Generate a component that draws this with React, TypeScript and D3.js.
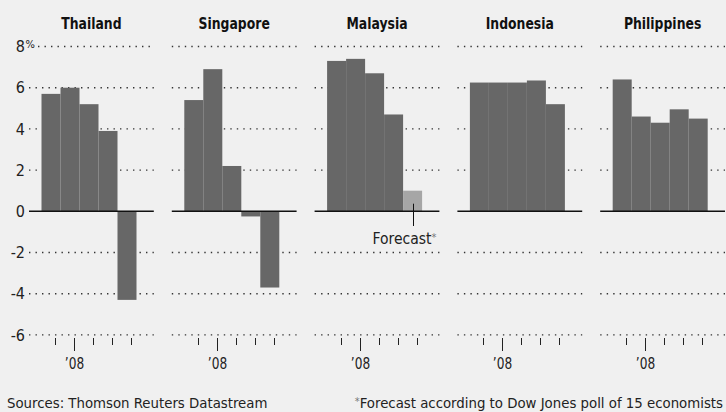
import * as d3 from 'd3';
import { useEffect, useRef } from "react";

// quarterly GDP growth, % change from a year earlier
const countries = ["Thailand", "Singapore", "Malaysia", "Indonesia", "Philippines"];
const thailand = [5.7, 6.0, 5.2, 3.9, -4.3];
const singapore = [5.4, 6.9, 2.2, -0.25, -3.7];
const malaysia = [7.3, 7.4, 6.7, 4.7, 1.0];
const indonesia = [6.25, 6.25, 6.25, 6.35, 5.2];
const philippines = [6.4, 4.6, 4.3, 4.95, 4.5];
const quarters = ["Q4 '07", "Q1 '08", "Q2 '08", "Q3 '08", "Q4 '08"];
const forecastFlags = [
    [false, false, false, false, false],
    [false, false, false, false, false],
    [false, false, false, false, true],
    [false, false, false, false, false],
    [false, false, false, false, false],
];
const yTicks = [-6, -4, -2, 0, 2, 4, 6, 8];
const yearLabel = "\u201908";
const yearTickIndex = 1;
const sourceText = "Sources: Thomson Reuters Datastream";
const noteText = "Forecast according to Dow Jones poll of 15 economists";

const W = 726, H = 412;
const FONT = "'DejaVu Sans Condensed', 'Roboto', sans-serif";

// squeeze text horizontally, the original uses a narrow face
const squeeze = (sel, k) => {
    const n = sel.node();
    const len = n.getComputedTextLength();
    sel.attr('textLength', len * k).attr('lengthAdjust', 'spacingAndGlyphs');
};

const App = () => {
    const svgRef = useRef(null);

    useEffect(() => {
        document.body.style.margin = '0';
        const svg = d3.select(svgRef.current)
            .attr('width', W)
            .attr('height', H)
            .style('display', 'block')
            .style('background', '#f0f0f0');
        svg.selectAll('*').remove();

        const series = [thailand, singapore, malaysia, indonesia, philippines];

        const y = d3.scaleLinear().domain([0, 8]).range([211.3, 46.5]);
        const panel = d3.scaleBand().domain(countries).range([29, 725]).paddingInner(0.126).paddingOuter(0);
        const pw = panel.bandwidth();

        // y labels
        yTicks.forEach(t => {
            svg.append('text')
                .attr('x', 25)
                .attr('y', y(t))
                .attr('dy', '0.36em')
                .attr('text-anchor', 'end')
                .attr('font-family', FONT)
                .attr('font-size', 16)
                .attr('fill', '#222')
                .text(t);
        });
        svg.append('text')
            .attr('x', 25.5)
            .attr('y', y(8) - 2)
            .attr('dy', '0.35em')
            .attr('font-family', FONT)
            .attr('font-size', 11)
            .attr('fill', '#222')
            .text('%');

        countries.forEach((c, i) => {
            const x0 = panel(c);
            const g = svg.append('g');
            const data = series[i];

            const title = g.append('text')
                .attr('x', x0 + pw / 2)
                .attr('y', 28.5)
                .attr('text-anchor', 'middle')
                .attr('font-family', FONT)
                .attr('font-weight', 'bold')
                .attr('font-size', 15)
                .attr('fill', '#111')
                .text(c);
            squeeze(title, 0.92);

            // dotted grid
            yTicks.filter(t => t !== 0).forEach(t => {
                g.append('line')
                    .attr('x1', (i === 0 && t === 8) ? x0 + 9 : x0)
                    .attr('x2', x0 + pw)
                    .attr('y1', y(t))
                    .attr('y2', y(t))
                    .attr('stroke', '#333')
                    .attr('stroke-width', 1.4)
                    .attr('stroke-dasharray', '1.4,5.1');
            });

            const xq = d3.scaleBand().domain(quarters).range([x0 + 12.5, x0 + 12.5 + 19 * 5]).padding(0);

            for (let k = 0; k < data.length; k++) {
                const v = data[k];
                g.append('rect')
                    .attr('x', xq(quarters[k]))
                    .attr('y', y(Math.max(0, v)))
                    .attr('width', xq.bandwidth())
                    .attr('height', Math.abs(y(v) - y(0)))
                    .attr('fill', forecastFlags[i][k] ? '#a6a6a6' : '#676767');
            }

            g.append('line')
                .attr('x1', x0)
                .attr('x2', x0 + pw)
                .attr('y1', y(0))
                .attr('y2', y(0))
                .attr('stroke', '#111')
                .attr('stroke-width', 1.6);

            // quarter ticks
            quarters.forEach((q, k) => {
                const tx = Math.round(xq(q) + 13.5) + 0.5;
                g.append('line')
                    .attr('x1', tx)
                    .attr('x2', tx)
                    .attr('y1', 338)
                    .attr('y2', k === yearTickIndex ? 351 : 345)
                    .attr('stroke', '#222')
                    .attr('stroke-width', 1);
                if (k === yearTickIndex) {
                    const yl = g.append('text')
                        .attr('x', tx)
                        .attr('y', 369)
                        .attr('text-anchor', 'middle')
                        .attr('font-family', FONT)
                        .attr('font-size', 15)
                        .attr('fill', '#222')
                        .text(yearLabel);
                    squeeze(yl, 0.9);
                }
            });

            // forecast annotation
            forecastFlags[i].forEach((f, k) => {
                if (!f) return;
                const cx = Math.round(xq(quarters[k]) + xq.bandwidth() / 2) + 0.5;
                g.append('line')
                    .attr('x1', cx)
                    .attr('x2', cx)
                    .attr('y1', y(data[k]) + 13)
                    .attr('y2', 226)
                    .attr('stroke', '#111')
                    .attr('stroke-width', 1);
                const t = g.append('text')
                    .attr('x', x0 + pw - 3)
                    .attr('y', 244)
                    .attr('text-anchor', 'end')
                    .attr('font-family', FONT)
                    .attr('font-size', 15.5)
                    .attr('fill', '#222');
                t.append('tspan').text('Forecast');
                t.append('tspan').attr('font-size', 11).attr('dy', -3).attr('fill', '#777').text('*');
            });
        });

        svg.append('text')
            .attr('x', 7)
            .attr('y', 408)
            .attr('font-family', FONT)
            .attr('font-size', 14.8)
            .attr('fill', '#222')
            .text(sourceText);
        const note = svg.append('text')
            .attr('x', 723)
            .attr('y', 408)
            .attr('text-anchor', 'end')
            .attr('font-family', FONT)
            .attr('font-size', 14.8)
            .attr('fill', '#222');
        note.append('tspan').attr('font-size', 11).attr('dy', -3).attr('fill', '#777').text('*');
        note.append('tspan').attr('dy', 3).text(noteText);
    });

    return (
        <svg ref={svgRef} />
    );
}

export default App;
